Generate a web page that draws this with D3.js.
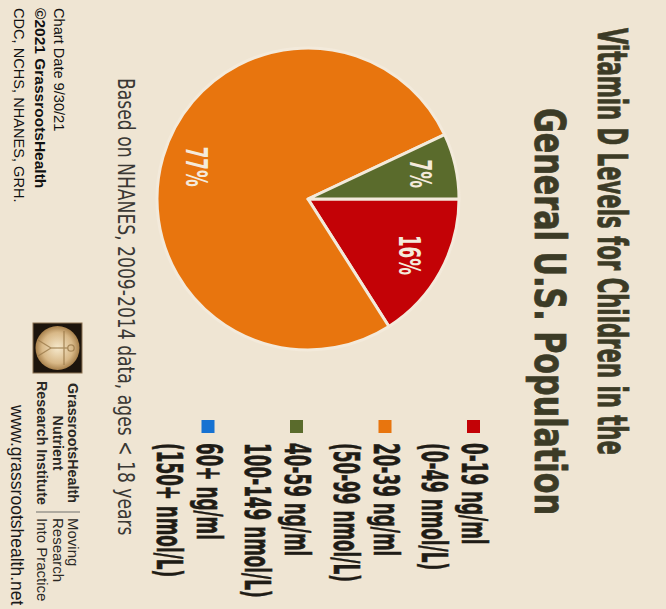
<!DOCTYPE html>
<html>
<head>
<meta charset="utf-8">
<script src="https://d3js.org/d3.v7.min.js"></script>
<style>
  html, body { margin: 0; padding: 0; background: #efe5d3; }
  svg { display: block; }
</style>
</head>
<body>
<svg id="chart" width="666" height="609"></svg>
<script>

// vitamin D bands, children < 18, NHANES 2009-2014
var bands = ["0-19 ng/ml", "20-39 ng/ml", "40-59 ng/ml", "60+ ng/ml"];
var bandsNmol = ["(0-49 nmol/L)", "(50-99 nmol/L)", "100-149 nmol/L)", "(150+ nmol/L)"];
var shares = [16, 77, 7, 0];

var titleLines = ["Vitamin D Levels for Children in the", "General U.S. Population"];
var subtitle = "Based on NHANES, 2009-2014 data, ages < 18 years";
var footLines = ["Chart Date 9/30/21", "\u00a92021 GrassrootsHealth", "CDC, NCHS, NHANES, GRH."];
var logoLeft = ["GrassrootsHealth", "Nutrient", "Research Institute"];
var logoRight = ["Moving", "Research", "Into Practice"];
var siteUrl = "www.grassrootshealth.net";

var narrow = "'Liberation Sans Narrow', 'DejaVu Sans Condensed', sans-serif",
    plain = "'Liberation Sans', Arial, sans-serif";

var color = d3.scaleOrdinal()
    .domain(bands)
    .range(["#c30206", "#e8750e", "#5a6b2c", "#1672d2"]);

// place a text at (x,y) and squeeze it horizontally by k (condensed look)
function condense(sel, pos, k) {
  sel.each(function(d, i) {
    var p = typeof pos === "function" ? pos(d, i) : pos;
    d3.select(this).attr("transform", "translate(" + p + ") scale(" + k + ",1)");
  });
}
// place a text at (x,y) and squeeze it to a given length
function fitTo(sel, pos, len) {
  var w = sel.node().getComputedTextLength();
  condense(sel, pos, len / w);
}

var svg = d3.select("#chart");
svg.append("rect").attr("width", 666).attr("height", 609).attr("fill", "#efe5d3");

// the whole graphic is turned a quarter turn clockwise
var g = svg.append("g").attr("transform", "translate(666,0) rotate(90)");

// title
var tl1 = g.append("text")
    .style("font-family", narrow).style("font-weight", "bold").style("font-size", "41px")
    .attr("fill", "#3c3b26").attr("stroke", "#3c3b26").attr("stroke-width", 0.8)
    .text(titleLines[0]);
fitTo(tl1, [28, 68], 427);
var tl2 = g.append("text")
    .style("font-family", narrow).style("font-weight", "bold").style("font-size", "42px")
    .attr("fill", "#3c3b26").attr("stroke", "#3c3b26").attr("stroke-width", 0.8)
    .text(titleLines[1]);
fitTo(tl2, [108, 131], 407);

// pie
var radius = 151;
var pie = d3.pie().sort(null).value(function(d) { return d.value; });
var arcs = pie(bands.map(function(b, i) { return {band: b, value: shares[i]}; }));
var arc = d3.arc().innerRadius(0).outerRadius(radius);
var labelArc = d3.arc().innerRadius(116).outerRadius(116);

var pg = g.append("g").attr("transform", "translate(199,358)");
pg.selectAll("path.slice")
  .data(arcs.filter(function(d) { return d.value > 0; }))
  .enter().append("path")
    .attr("class", "slice")
    .attr("d", arc)
    .attr("fill", function(d) { return color(d.data.band); })
    .attr("stroke", "#f3eadb")
    .attr("stroke-width", 3)
    .attr("stroke-linejoin", "round");

var pl = pg.selectAll("text.pct")
  .data(arcs.filter(function(d) { return d.value > 0; }))
  .enter().append("text")
    .attr("class", "pct")
    .attr("text-anchor", "middle")
    .attr("dy", "0.36em")
    .style("font-family", narrow).style("font-weight", "bold").style("font-size", "30px")
    .attr("fill", "#f4eadb")
    .text(function(d) { return d.value + "%"; });
condense(pl, function(d) { return labelArc.centroid(d); }, 0.62);

// legend
var legend = g.append("g").attr("transform", "translate(420,204)");
var item = legend.selectAll("g.item")
  .data(bands)
  .enter().append("g")
    .attr("class", "item")
    .attr("transform", function(d, i) { return "translate(0," + (i * 88.5) + ")"; });
item.append("rect")
    .attr("x", 0).attr("y", -18)
    .attr("width", 13).attr("height", 13)
    .attr("fill", function(d) { return color(d); });
var l1 = item.append("text")
    .style("font-family", narrow).style("font-weight", "bold").style("font-size", "36px")
    .attr("fill", "#1f1c16").attr("stroke", "#1f1c16").attr("stroke-width", 0.6)
    .text(function(d) { return d; });
var l2 = item.append("text")
    .style("font-family", narrow).style("font-weight", "bold").style("font-size", "36px")
    .attr("fill", "#1f1c16").attr("stroke", "#1f1c16").attr("stroke-width", 0.6)
    .text(function(d, i) { return bandsNmol[i]; });
condense(l1, [23, 0], 0.52);
condense(l2, [23, 40], 0.52);

// subtitle
var st = g.append("text")
    .style("font-family", narrow).style("font-size", "23px")
    .attr("fill", "#3a3834")
    .text(subtitle);
fitTo(st, [78, 548], 458);

// footer notes
g.selectAll("text.foot")
  .data(footLines)
  .enter().append("text")
    .attr("class", "foot")
    .attr("x", 8)
    .attr("y", function(d, i) { return [612, 631, 652][i]; })
    .style("font-family", plain)
    .style("font-size", function(d, i) { return i === 1 ? "15.5px" : "14.6px"; })
    .style("font-weight", function(d, i) { return i === 1 ? "bold" : "normal"; })
    .attr("fill", "#111")
    .text(function(d) { return d; });

// logo
var logo = g.append("g").attr("transform", "translate(323,584)");
var grad = svg.append("defs").append("radialGradient").attr("id", "lg");
grad.append("stop").attr("offset", "0%").attr("stop-color", "#f6e9cc");
grad.append("stop").attr("offset", "70%").attr("stop-color", "#d8b887");
grad.append("stop").attr("offset", "100%").attr("stop-color", "#a8814c");
logo.append("rect").attr("width", 50).attr("height", 49).attr("fill", "#1c140c")
    .attr("stroke", "#8a7050").attr("stroke-width", 1);
logo.append("circle").attr("cx", 25).attr("cy", 24.5).attr("r", 22).attr("fill", "url(#lg)");
var man = logo.append("g").attr("stroke", "#9b7a4a").attr("stroke-width", 1.3)
    .attr("fill", "none").attr("opacity", 0.8);
man.append("circle").attr("cx", 25).attr("cy", 11).attr("r", 3.2);
man.append("line").attr("x1", 25).attr("y1", 14).attr("x2", 25).attr("y2", 31);
man.append("line").attr("x1", 8).attr("y1", 18).attr("x2", 42).attr("y2", 18);
man.append("line").attr("x1", 25).attr("y1", 31).attr("x2", 17).attr("y2", 44);
man.append("line").attr("x1", 25).attr("y1", 31).attr("x2", 33).attr("y2", 44);

g.selectAll("text.logoL")
  .data(logoLeft)
  .enter().append("text")
    .attr("class", "logoL")
    .attr("x", 443)
    .attr("y", function(d, i) { return 598 + i * 15.5; })
    .attr("text-anchor", "middle")
    .style("font-family", plain).style("font-weight", "bold").style("font-size", "14.3px")
    .attr("fill", "#2b2925")
    .text(function(d) { return d; });
g.append("line")
    .attr("x1", 512).attr("x2", 512).attr("y1", 586).attr("y2", 630)
    .attr("stroke", "#9a968e").attr("stroke-width", 1.5);
g.selectAll("text.logoR")
  .data(logoRight)
  .enter().append("text")
    .attr("class", "logoR")
    .attr("x", 518)
    .attr("y", function(d, i) { return 598 + i * 15.5; })
    .style("font-family", plain).style("font-size", "15px")
    .attr("fill", "#2b2925")
    .text(function(d) { return d; });

g.append("text")
    .attr("x", 405).attr("y", 655)
    .style("font-family", plain).style("font-size", "17.5px")
    .attr("fill", "#1a1a1a")
    .text(siteUrl);

</script>
</body>
</html>
